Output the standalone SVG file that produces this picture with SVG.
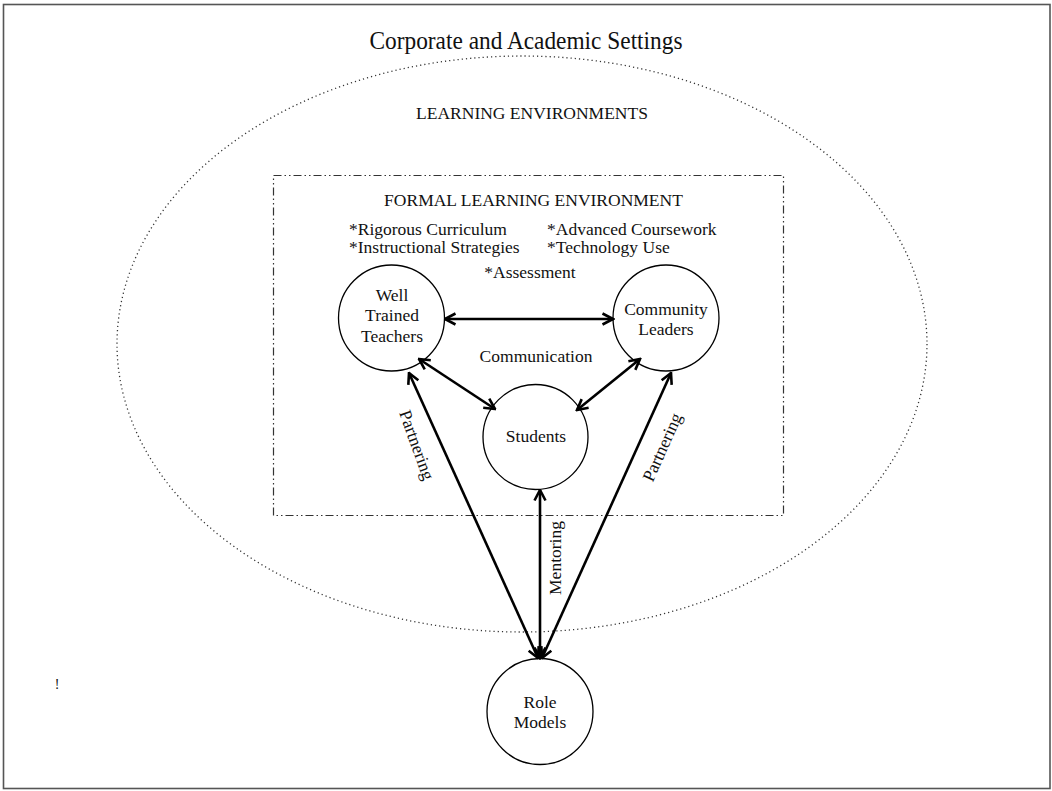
<svg xmlns="http://www.w3.org/2000/svg" width="1052" height="791" viewBox="0 0 1052 791">
<style>
text{font-family:"Liberation Serif","Times New Roman",serif;fill:#111;}
.t{font-size:17.5px;text-anchor:middle;}
.l{font-size:17.5px;}
.node{fill:#fff;stroke:#000;stroke-width:1.3;}
.conn{stroke:#000;stroke-width:2.6;fill:none;marker-start:url(#ah);marker-end:url(#ah);}
</style>
<defs>
<marker id="ah" viewBox="0 0 14 14" refX="12.5" refY="7" markerWidth="14" markerHeight="14" markerUnits="userSpaceOnUse" orient="auto-start-reverse">
<path d="M2,1.5 L12.5,7 L2,12.5" fill="none" stroke="#000" stroke-width="2.6" stroke-linejoin="miter"/>
</marker>
</defs>
<rect x="0" y="0" width="1052" height="791" fill="#fff"/>
<rect x="3.5" y="4.5" width="1046.5" height="784" fill="none" stroke="#555" stroke-width="1.6"/>
<text x="526" y="49" style="font-size:26px" text-anchor="middle" textLength="313" lengthAdjust="spacingAndGlyphs">Corporate and Academic Settings</text>
<g id="learning-environments">
<ellipse cx="522" cy="344" rx="405" ry="288" fill="none" stroke="#333" stroke-width="1.3" stroke-dasharray="1.2 3"/>
<text class="t" x="532" y="119">LEARNING ENVIRONMENTS</text>
</g>
<g id="formal-learning-environment">
<rect x="273.5" y="175.5" width="510" height="340" fill="none" stroke="#333" stroke-width="1.2" stroke-dasharray="8 3 1.5 3 1.5 3"/>
<text class="t" x="533.5" y="206">FORMAL LEARNING ENVIRONMENT</text>
<text class="l" x="349" y="235">*Rigorous Curriculum</text>
<text class="l" x="547" y="235">*Advanced Coursework</text>
<text class="l" x="349" y="253">*Instructional Strategies</text>
<text class="l" x="547" y="253">*Technology Use</text>
<text class="t" x="530" y="278">*Assessment</text>
<text class="t" x="536" y="362">Communication</text>
</g>
<g id="teachers">
<circle class="node" cx="391.5" cy="318" r="53"/>
<text class="t" x="392" y="301">Well</text>
<text class="t" x="392" y="321">Trained</text>
<text class="t" x="392" y="342">Teachers</text>
</g>
<g id="leaders">
<circle class="node" cx="666" cy="318" r="53"/>
<text class="t" x="666" y="315">Community</text>
<text class="t" x="666" y="335">Leaders</text>
</g>
<g id="students">
<circle class="node" cx="535.5" cy="437" r="52.5"/>
<text class="t" x="536" y="442">Students</text>
</g>
<g id="role-models">
<circle class="node" cx="540" cy="711.5" r="53"/>
<text class="t" x="540" y="708">Role</text>
<text class="t" x="540" y="728">Models</text>
</g>
<g id="connectors">
<line class="conn" x1="445" y1="319" x2="613" y2="319"/>
<line class="conn" x1="419" y1="359" x2="495" y2="409"/>
<line class="conn" x1="640" y1="359" x2="577" y2="410"/>
<line class="conn" x1="409" y1="373" x2="538" y2="658"/>
<line class="conn" x1="671" y1="373" x2="542" y2="658"/>
<line class="conn" x1="540" y1="490" x2="540" y2="658"/>
<text class="t" transform="translate(417,445) rotate(70)" y="6">Partnering</text>
<text class="t" transform="translate(662,447) rotate(-66)" y="6">Partnering</text>
<text class="t" transform="translate(555,558) rotate(-90)" y="6">Mentoring</text>
</g>
<text x="57" y="689" style="font-size:14px" text-anchor="middle">!</text>
</svg>
